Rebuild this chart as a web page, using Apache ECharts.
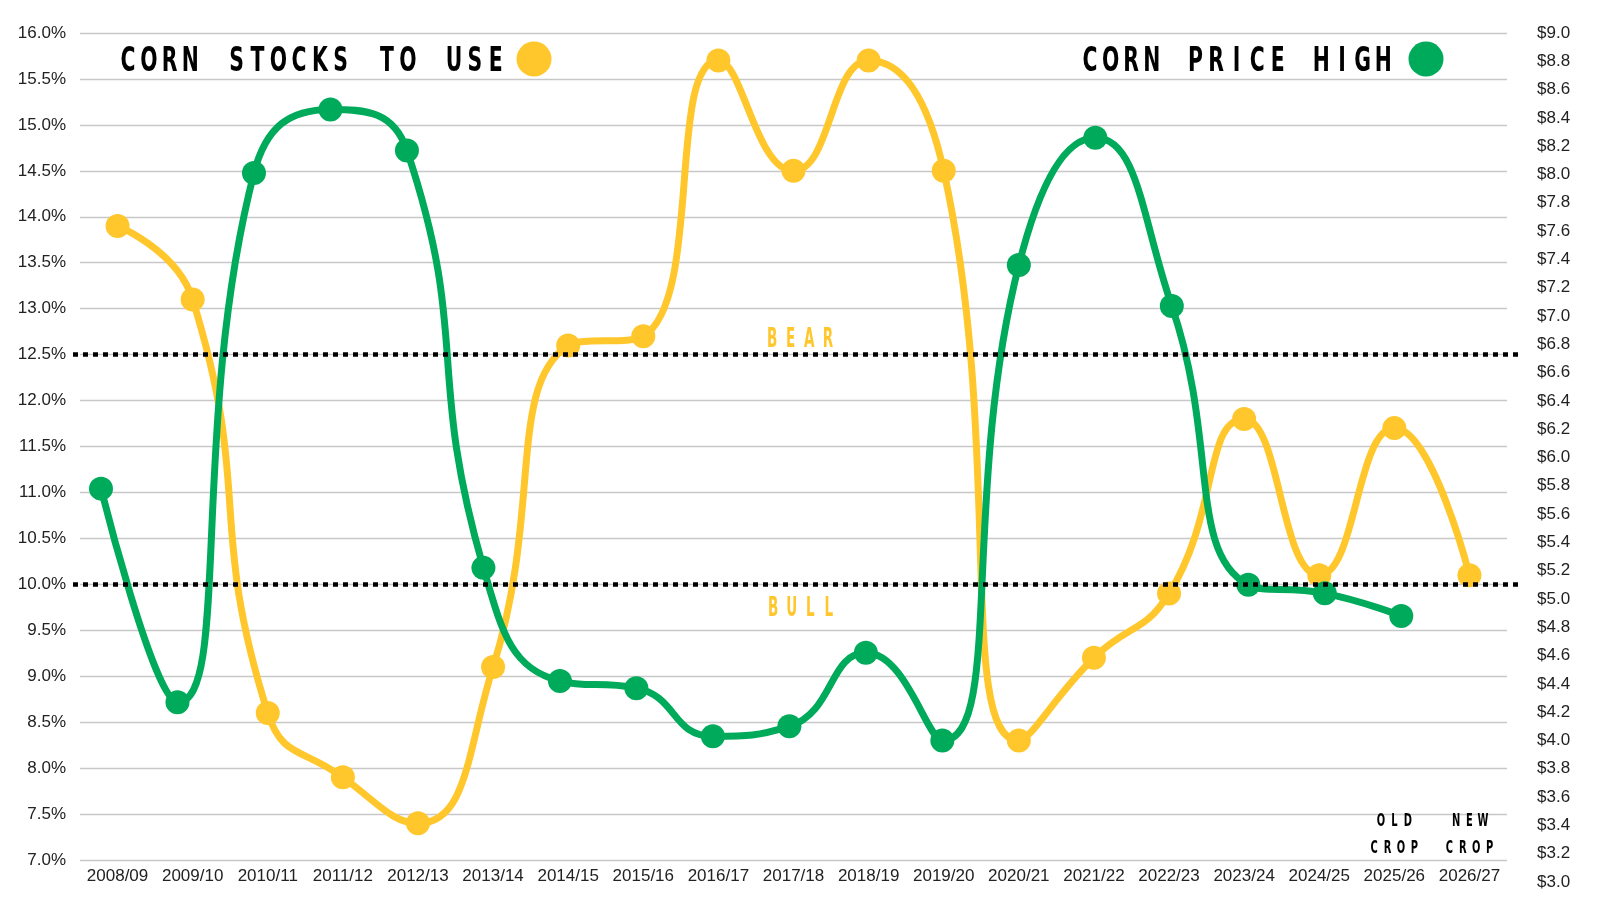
<!DOCTYPE html>
<html>
<head>
<meta charset="utf-8">
<script src="https://cdn.jsdelivr.net/npm/echarts@6/dist/echarts.min.js"></script>
<style>
  html, body { margin: 0; padding: 0; background: #fff; }
  #main { width: 1600px; height: 900px; }
</style>
</head>
<body>
<div id="main"></div>
<script>
// marketing years
var seasons = ['2008/09','2009/10','2010/11','2011/12','2012/13','2013/14','2014/15','2015/16','2016/17','2017/18',
  '2018/19','2019/20','2020/21','2021/22','2022/23','2023/24','2024/25','2025/26','2026/27'];
// corn stocks to use, %
var stocksToUse = [13.9, 13.1, 8.6, 7.9, 7.4, 9.1, 12.6, 12.7, 15.7, 14.5, 15.7, 14.5, 8.3, 9.2, 9.9, 11.8, 10.1, 11.7, 10.1];
// corn price high, $/bu (no value yet for new crop)
var priceHigh = [5.78, 4.27, 8.01, 8.46, 8.17, 5.22, 4.42, 4.37, 4.03, 4.10, 4.62, 4.00, 7.36, 8.26, 7.07, 5.10, 5.04, 4.88];
// bear / bull thresholds, %
var bearLevel = 12.5;
var bullLevel = 10.0;

var YELLOW = '#FFC72C';
var GREEN = '#00AA5B';
var labelFont = '"Liberation Sans", Arial, sans-serif';

var chart = echarts.init(document.getElementById('main'));

var option = {
  backgroundColor: '#fff',
  animation: false,
  grid: [
    { left: 80, right: 93, top: 33, bottom: 40, outerBoundsMode: 'none' },   // stocks to use
    { left: 62.75, right: 84, top: 33, bottom: 18, outerBoundsMode: 'none' }, // price high
    { left: 73, right: 77, top: 33, bottom: 40, outerBoundsMode: 'none' }     // bear/bull lines
  ],
  xAxis: [
    {
      gridIndex: 0, type: 'category', data: seasons, boundaryGap: true,
      axisLine: { show: false }, axisTick: { show: false },
      axisLabel: { fontSize: 17, color: '#222', fontFamily: labelFont, margin: 8, interval: 0 }
    },
    { gridIndex: 1, type: 'category', data: seasons, boundaryGap: true, show: false },
    { gridIndex: 2, type: 'value', min: 0, max: 1, show: false }
  ],
  yAxis: [
    {
      gridIndex: 0, type: 'value', min: 7, max: 16, interval: 0.5, position: 'left',
      axisLine: { show: false }, axisTick: { show: false },
      axisLabel: { fontSize: 17, color: '#222', fontFamily: labelFont, margin: 14,
        formatter: function (v) { return v.toFixed(1) + '%'; } },
      splitLine: { lineStyle: { color: '#c8c8c8', width: 1.3 } }
    },
    {
      gridIndex: 1, type: 'value', min: 3, max: 9, interval: 0.2, position: 'right',
      axisLine: { show: false }, axisTick: { show: false },
      axisLabel: { fontSize: 17, color: '#222', fontFamily: labelFont, margin: 21,
        formatter: function (v) { return '$' + v.toFixed(1); } },
      splitLine: { show: false }
    },
    { gridIndex: 2, type: 'value', min: 7, max: 16, show: false }
  ],
  series: [
    {
      name: 'Corn Stocks to Use', type: 'line', xAxisIndex: 0, yAxisIndex: 0,
      data: stocksToUse, smooth: 0.5, symbol: 'circle', symbolSize: 24,
      itemStyle: { color: YELLOW }, lineStyle: { color: YELLOW, width: 7 }, z: 2
    },
    {
      name: 'Corn Price High', type: 'line', xAxisIndex: 1, yAxisIndex: 1,
      data: priceHigh, smooth: 0.5, symbol: 'circle', symbolSize: 24,
      itemStyle: { color: GREEN }, lineStyle: { color: GREEN, width: 7 }, z: 3
    },
    {
      name: 'levels', type: 'line', xAxisIndex: 2, yAxisIndex: 2, data: [], z: 5,
      markLine: {
        silent: true, symbol: 'none', label: { show: false },
        lineStyle: { color: '#000', width: 4.5, type: [5, 5], cap: 'butt' },
        data: [{ yAxis: bearLevel }, { yAxis: bullLevel }]
      }
    }
  ]
};
chart.setOption(option);

// text with fixed letter pitch (condensed, wide-tracked look)
function spacedText(str, x0, y, pitch, spaceAdv, size, scaleX, color) {
  var els = [];
  var x = x0;
  for (var i = 0; i < str.length; i++) {
    var ch = str[i];
    if (ch === ' ') { x += spaceAdv; continue; }
    els.push({
      type: 'text', x: x, y: y, scaleX: scaleX, z: 10,
      style: { text: ch, fill: color, fontSize: size, fontWeight: 'bold',
        fontFamily: '"DejaVu Sans", sans-serif', align: 'center', verticalAlign: 'middle' }
    });
    x += pitch;
  }
  return els;
}

var g = [];
// legend titles
g = g.concat(spacedText('CORN STOCKS TO USE', 128, 62, 20.8, 25.5, 34, 0.6, '#000'));
g.push({ type: 'circle', shape: { cx: 534, cy: 59, r: 17.5 }, style: { fill: YELLOW }, z: 10 });
g = g.concat(spacedText('CORN PRICE HIGH', 1090, 62, 20.6, 23, 34, 0.6, '#000'));
g.push({ type: 'circle', shape: { cx: 1426, cy: 59, r: 17.5 }, style: { fill: GREEN }, z: 10 });

// BEAR / BULL tags placed from the left axis scale
var bearY = chart.convertToPixel({ yAxisIndex: 0 }, bearLevel);
var bullY = chart.convertToPixel({ yAxisIndex: 0 }, bullLevel);
g = g.concat(spacedText('BEAR', 800 - 1.5 * 18.6, bearY - 14, 18.6, 0, 26, 0.52, YELLOW));
g = g.concat(spacedText('BULL', 801 - 1.5 * 18.6, bullY + 25, 18.6, 0, 26, 0.52, YELLOW));

// OLD CROP / NEW CROP over their categories
var oldX = chart.convertToPixel({ xAxisIndex: 0 }, '2025/26');
var newX = chart.convertToPixel({ xAxisIndex: 0 }, '2026/27');
g = g.concat(spacedText('OLD', oldX - 13.4, 821, 13.4, 0, 18, 0.55, '#000'));
g = g.concat(spacedText('CROP', oldX - 1.5 * 13.4, 848, 13.4, 0, 18, 0.55, '#000'));
g = g.concat(spacedText('NEW', newX - 13.4, 821, 13.4, 0, 18, 0.55, '#000'));
g = g.concat(spacedText('CROP', newX - 1.5 * 13.4, 848, 13.4, 0, 18, 0.55, '#000'));

chart.setOption({ graphic: { elements: g } });
</script>
</body>
</html>
